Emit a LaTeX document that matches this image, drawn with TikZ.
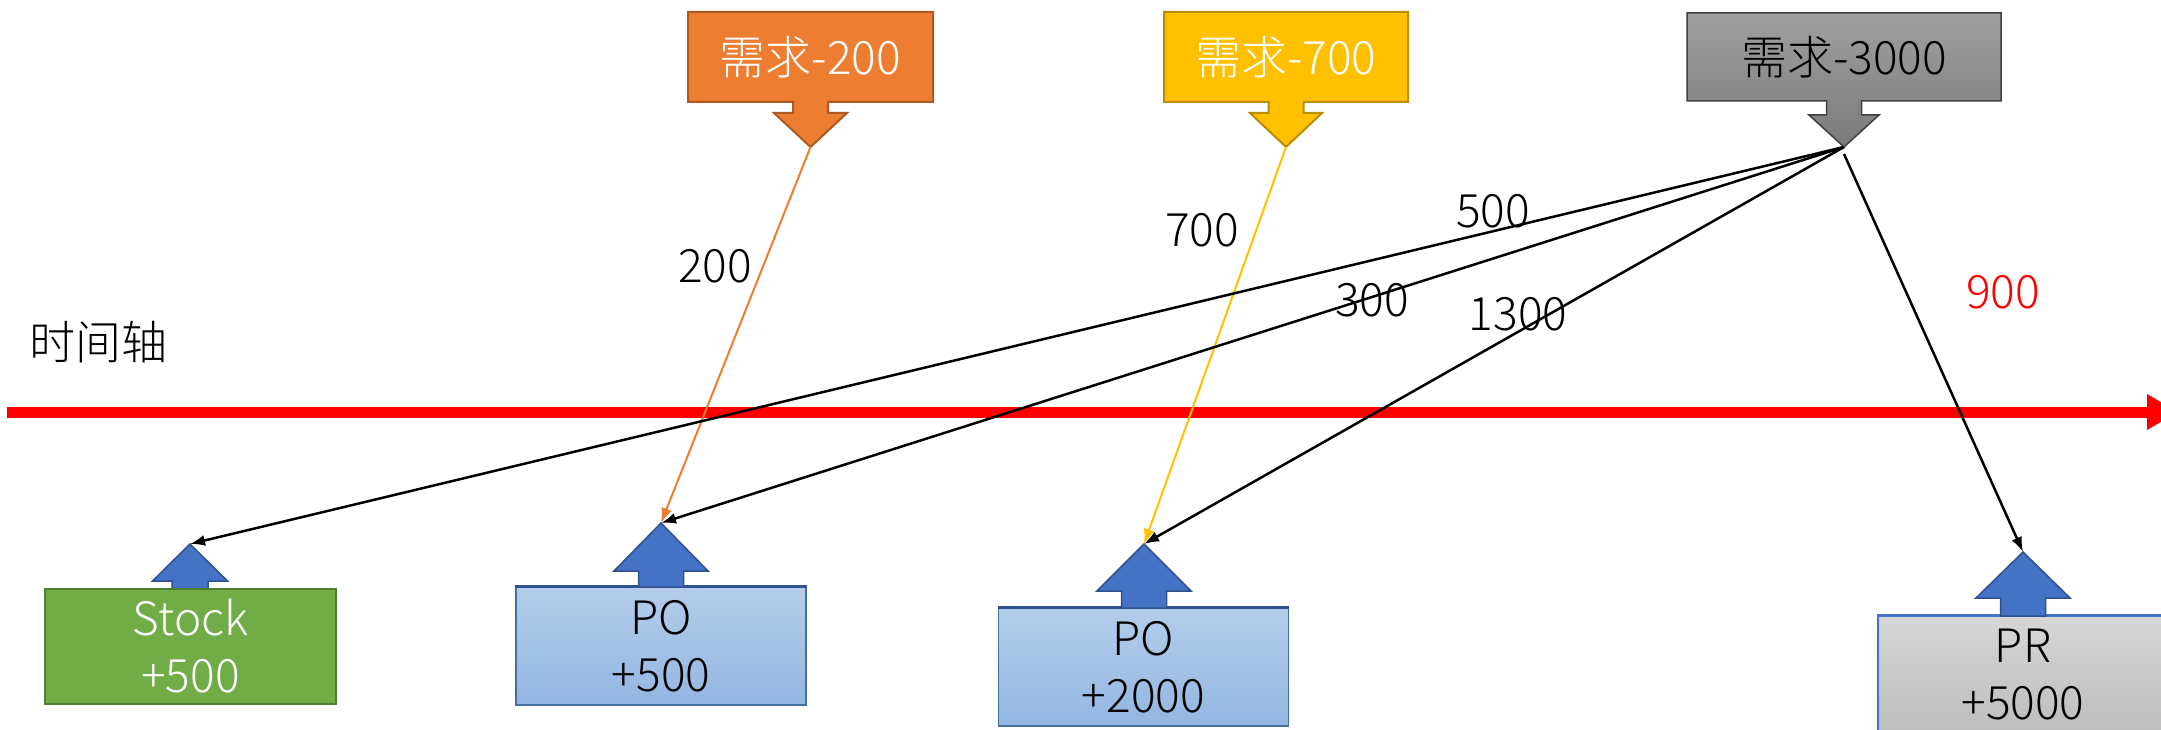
\documentclass[tikz,border=0pt]{standalone}
\usepackage{fontspec}
\setmainfont{Noto Sans CJK SC}[UprightFont={* Light}]
\usetikzlibrary{arrows.meta}
\definecolor{orfill}{HTML}{ED7D31}
\definecolor{ordraw}{HTML}{AE5A21}
\definecolor{yefill}{HTML}{FFC000}
\definecolor{yedraw}{HTML}{BC8C00}
\definecolor{grtop}{HTML}{A0A0A0}
\definecolor{grbot}{HTML}{7A7A7A}
\definecolor{grdraw}{HTML}{404040}
\definecolor{gnfill}{HTML}{70AD47}
\definecolor{gndraw}{HTML}{507E32}
\definecolor{potop}{HTML}{B4CDEA}
\definecolor{pobot}{HTML}{92B6E2}
\definecolor{podraw}{HTML}{41719C}
\definecolor{bluefill}{HTML}{4472C4}
\definecolor{bluedraw}{HTML}{2F528F}
\definecolor{prtop}{HTML}{D6D6D6}
\definecolor{prbot}{HTML}{BDBDBD}
\definecolor{axred}{HTML}{FF0000}
\begin{document}
\begin{tikzpicture}[x=1pt,y=-1pt,
  txt/.style={font=\fontsize{46}{57}\selectfont, inner sep=0pt, align=center},
  upbox/.style={txt, minimum width=290pt, minimum height=118pt, line width=1.5pt},
  uparrow/.style={fill=bluefill, draw=bluedraw, line width=1.5pt, line join=miter},
  link/.style={line width=2.5pt, -{Latex[length=15pt,width=11pt]}},
  orlink/.style={line width=2pt, orfill, -{Latex[length=15pt,width=11pt]}},
  yelink/.style={line width=2pt, yefill, -{Latex[length=15pt,width=11pt]}}
]
\clip (0,0) rectangle (2161,730);

% demand callouts
\filldraw[fill=orfill, draw=ordraw, line width=2pt]
  (688,12) -- (933,12) -- (933,102) -- (828,102) -- (828,113) -- (847,113) -- (810.5,147)
  -- (774,113) -- (793,113) -- (793,102) -- (688,102) -- cycle;
\node[txt, text=white] (d200) at (810.5,57) {需求-200};
\coordinate (t200) at (810.5,147);

\filldraw[fill=yefill, draw=yedraw, line width=2pt]
  (1164,12) -- (1408,12) -- (1408,102) -- (1303.5,102) -- (1303.5,113) -- (1322,113) -- (1286,147)
  -- (1250,113) -- (1268.5,113) -- (1268.5,102) -- (1164,102) -- cycle;
\node[txt, text=white] (d700) at (1286,57) {需求-700};
\coordinate (t700) at (1286,147);

\shade[top color=grtop, bottom color=grbot]
  (1687,13) -- (2001,13) -- (2001,101) -- (1861.5,101) -- (1861.5,115) -- (1879,115) -- (1844,147)
  -- (1809,115) -- (1826.5,115) -- (1826.5,101) -- (1687,101) -- cycle;
\draw[draw=grdraw, line width=1.5pt, line join=miter]
  (1687,13) -- (2001,13) -- (2001,101) -- (1861.5,101) -- (1861.5,115) -- (1879,115) -- (1844,147)
  -- (1809,115) -- (1826.5,115) -- (1826.5,101) -- (1687,101) -- cycle;
\node[txt, text=black] (d3000) at (1844,57) {需求-3000};
\coordinate (t3000) at (1844,147);
\coordinate (t3000b) at (1844,154);

% time axis
\coordinate (ax0) at (7,412);
\coordinate (ax1) at (2149,412);
\draw[axred, line width=11pt] (ax0) -- (ax1);
\fill[axred] (2147,394) -- (2178,412) -- (2147,430) -- cycle;
\node[txt] (axis) at (98,342) {时间轴};

% supply boxes
\filldraw[uparrow] (172,590) -- (172,581) -- (152.5,581) -- (190,544) -- (227.5,581) -- (208,581) -- (208,590) -- cycle;
\node[upbox, minimum width=291pt, minimum height=115pt, fill=gnfill, draw=gndraw, text=white] (stock) at (190.5,646.5) {Stock\\+500};
\coordinate (tS) at (190,544);

\node[upbox, top color=potop, bottom color=pobot, draw=podraw] (po5) at (661,646) {PO\\+500};
\draw[bluedraw, line width=3pt] (po5.north west) -- (po5.north east);
\filldraw[uparrow] (638.5,587) -- (638.5,571) -- (614,571) -- (661,523) -- (708,571) -- (683.5,571) -- (683.5,587) -- cycle;
\coordinate (tP5) at (661,523);

\node[upbox, top color=potop, bottom color=pobot, draw=podraw] (po2) at (1143.5,667) {PO\\+2000};
\draw[bluedraw, line width=3pt] (po2.north west) -- (po2.north east);
\filldraw[uparrow] (1121.5,608) -- (1121.5,591) -- (1097,591) -- (1144,544) -- (1191,591) -- (1166.5,591) -- (1166.5,608) -- cycle;
\coordinate (tP2) at (1144,544);

\node[upbox, top color=prtop, bottom color=prbot, draw=bluefill] (pr) at (2023,675) {PR\\+5000};
\draw[bluefill, line width=3pt] (pr.north west) -- (pr.north east);
\filldraw[uparrow] (2000.5,616) -- (2000.5,598) -- (1976,598) -- (2023,552) -- (2070,598) -- (2045.5,598) -- (2045.5,616) -- cycle;
\coordinate (tPR) at (2023,552);

% connectors
\draw[orlink] (t200) -- (tP5);
\draw[yelink] (t700) -- (tP2);
\draw[link] (t3000) -- (tS);
\draw[link] (t3000) -- (tP5);
\draw[link] (t3000) -- (tP2);
\draw[link] (t3000b) -- (tPR);

% labels
\node[txt] (l200) at (715,266) {200};
\node[txt] (l700) at (1202,230) {700};
\node[txt] (l500) at (1493,211) {500};
\node[txt] (l300) at (1372,300) {300};
\node[txt] (l1300) at (1518,314) {1300};
\node[txt, text=axred] (l900) at (2003,292) {900};
\end{tikzpicture}
\end{document}
